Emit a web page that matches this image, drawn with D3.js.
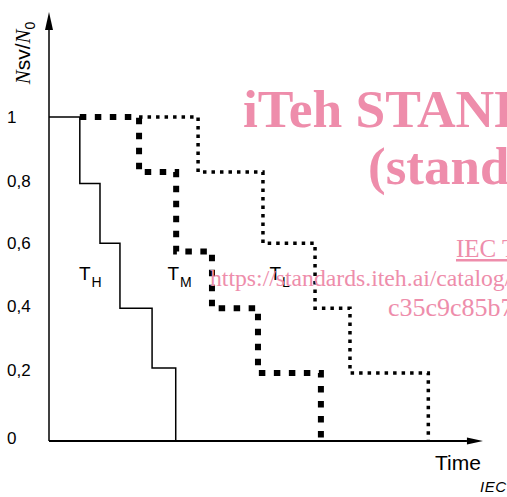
<!DOCTYPE html>
<html>
<head>
<meta charset="utf-8">
<script src="https://cdn.jsdelivr.net/npm/d3@7"></script>
<style>
  html, body { margin: 0; padding: 0; background: #fff; overflow: hidden; }
  svg { display: block; }
</style>
</head>
<body>
<div id="chart"></div>
<script>
// ---- data ----
const yTicks = [0, 0.2, 0.4, 0.6, 0.8, 1];
const seriesNames = ["H", "M", "L"];
// start time of each curve (at level 1)
const startH = 0, startM = 7.1, startL = 20.75;
// times at which each curve drops, and the level after each drop
const dropsH = [7.1, 11.75, 16.35, 23.75, 29.2];
const levelsH = [0.795, 0.61, 0.41, 0.225, 0];
const dropsM = [20.75, 29.3, 37.55, 48.15, 62.65];
const levelsM = [0.83, 0.585, 0.41, 0.21, 0];
const dropsL = [34.35, 49.3, 61.3, 69.35, 87.4];
const levelsL = [0.83, 0.61, 0.41, 0.21, 0];
// label positions (time, level) for the curve names
const labelPos = [[6.9, 0.5], [27.3, 0.5], [50.8, 0.5]];

const W = 507, H = 497;
const svg = d3.select("#chart").append("svg").attr("width", W).attr("height", H);

const x = d3.scaleLinear().domain([0, 100]).range([49, 483]);
const y = d3.scaleLinear().domain([0, 1]).range([441, 117]);

const ink = "#000";
const sans = "'Liberation Sans', Arial, sans-serif";
const serif = "'Liberation Serif', 'Times New Roman', serif";

// ---- axes ----
const yTop = 1.324;
svg.append("line").attr("x1", x(0)).attr("x2", x(0)).attr("y1", y(0)).attr("y2", y(yTop) + 10)
  .attr("stroke", ink).attr("stroke-width", 1.5);
svg.append("path")
  .attr("d", `M${x(0)},${y(yTop)} L${x(0) - 4},${y(yTop) + 18} L${x(0) + 4},${y(yTop) + 18} Z`)
  .attr("fill", ink);
svg.append("line").attr("x1", x(0)).attr("x2", x(96.3)).attr("y1", y(0)).attr("y2", y(0))
  .attr("stroke", ink).attr("stroke-width", 1.8);
svg.append("path")
  .attr("d", `M${x(100)},${y(0)} L${x(96.3)},${y(0) - 3.5} L${x(96.3)},${y(0) + 3.5} Z`)
  .attr("fill", ink);

// small label nudges so the tick texts sit where the reference prints them
const labelNudge = {0: -3, 0.2: -6, 0.4: -5, 0.6: -4, 0.8: -1, 1: 0};
const yAxis = d3.axisLeft(y).tickValues(yTicks).tickSize(0)
  .tickFormat(d => d3.format("")(d).replace(".", ","));
const gy = svg.append("g").attr("transform", `translate(${x(0)},0)`).call(yAxis);
gy.select(".domain").remove();
gy.selectAll("text")
  .attr("x", 7 - x(0)).attr("dy", "0.35em")
  .attr("text-anchor", "start")
  .attr("font-family", sans).attr("font-size", 17).attr("fill", ink);
gy.selectAll(".tick").attr("transform", d => `translate(0,${y(d) + labelNudge[d]})`);

// y label  Nsv/N0
const yl = svg.append("text")
  .attr("transform", "translate(30,53) rotate(-90)")
  .attr("text-anchor", "middle")
  .attr("font-family", sans).attr("font-size", 21).attr("fill", ink);
yl.append("tspan").attr("font-family", serif).attr("font-style", "italic").text("N");
yl.append("tspan").text("sv/");
yl.append("tspan").attr("font-family", serif).attr("font-style", "italic").text("N");
yl.append("tspan").attr("font-size", 14).attr("dy", 5).text("0");

svg.append("text").attr("x", 435).attr("y", 470)
  .attr("font-family", sans).attr("font-size", 21).attr("fill", ink).text("Time");
svg.append("text").attr("x", 480).attr("y", 492)
  .attr("font-family", sans).attr("font-style", "italic").attr("font-size", 15)
  .attr("letter-spacing", 0.5).attr("fill", ink).text("IEC");

// ---- curves ----
const line = d3.line().x(d => x(d[0])).y(d => y(d[1])).curve(d3.curveStepAfter);
function pts(start, drops, levels) {
  return [[start, 1]].concat(drops.map((t, i) => [t, levels[i]]));
}
svg.append("path").attr("d", line(pts(startL, dropsL, levelsL)))
  .attr("fill", "none").attr("stroke", ink).attr("stroke-width", 3.5)
  .attr("stroke-dasharray", "3.5,5");
svg.append("path").attr("d", line(pts(startM, dropsM, levelsM)))
  .attr("fill", "none").attr("stroke", ink).attr("stroke-width", 6)
  .attr("stroke-dasharray", "6.5,8.5");
svg.append("path").attr("d", line(pts(startH, dropsH, levelsH)))
  .attr("fill", "none").attr("stroke", ink).attr("stroke-width", 1.5);

// curve names
seriesNames.forEach((n, i) => {
  const t = svg.append("text").attr("x", x(labelPos[i][0])).attr("y", y(labelPos[i][1]) + 1)
    .attr("font-family", sans).attr("font-size", 19).attr("fill", ink);
  t.append("tspan").text("T");
  t.append("tspan").attr("font-size", 14).attr("dy", 7).attr("dx", 1).text(n);
});

// ---- watermark ----
const pink = "#ee8dab";
const wm = svg.append("g").attr("fill", pink).attr("font-family", serif);
wm.append("text").attr("x", 243).attr("y", 127).attr("font-size", 53.5).attr("font-weight", "bold")
  .text("iTeh STANDARD PREVIEW");
wm.append("text").attr("x", 368).attr("y", 184).attr("font-size", 53).attr("font-weight", "bold")
  .text("(standards.iteh.ai)");
wm.append("text").attr("x", 456).attr("y", 257).attr("font-size", 25)
  .attr("text-decoration", "underline").text("IEC TR");
wm.append("text").attr("x", 210).attr("y", 286).attr("font-size", 23.7)
  .text("https://standards.iteh.ai/catalog/standards");
wm.append("text").attr("x", 388).attr("y", 316).attr("font-size", 26)
  .text("c35c9c85b7");
</script>
</body>
</html>
